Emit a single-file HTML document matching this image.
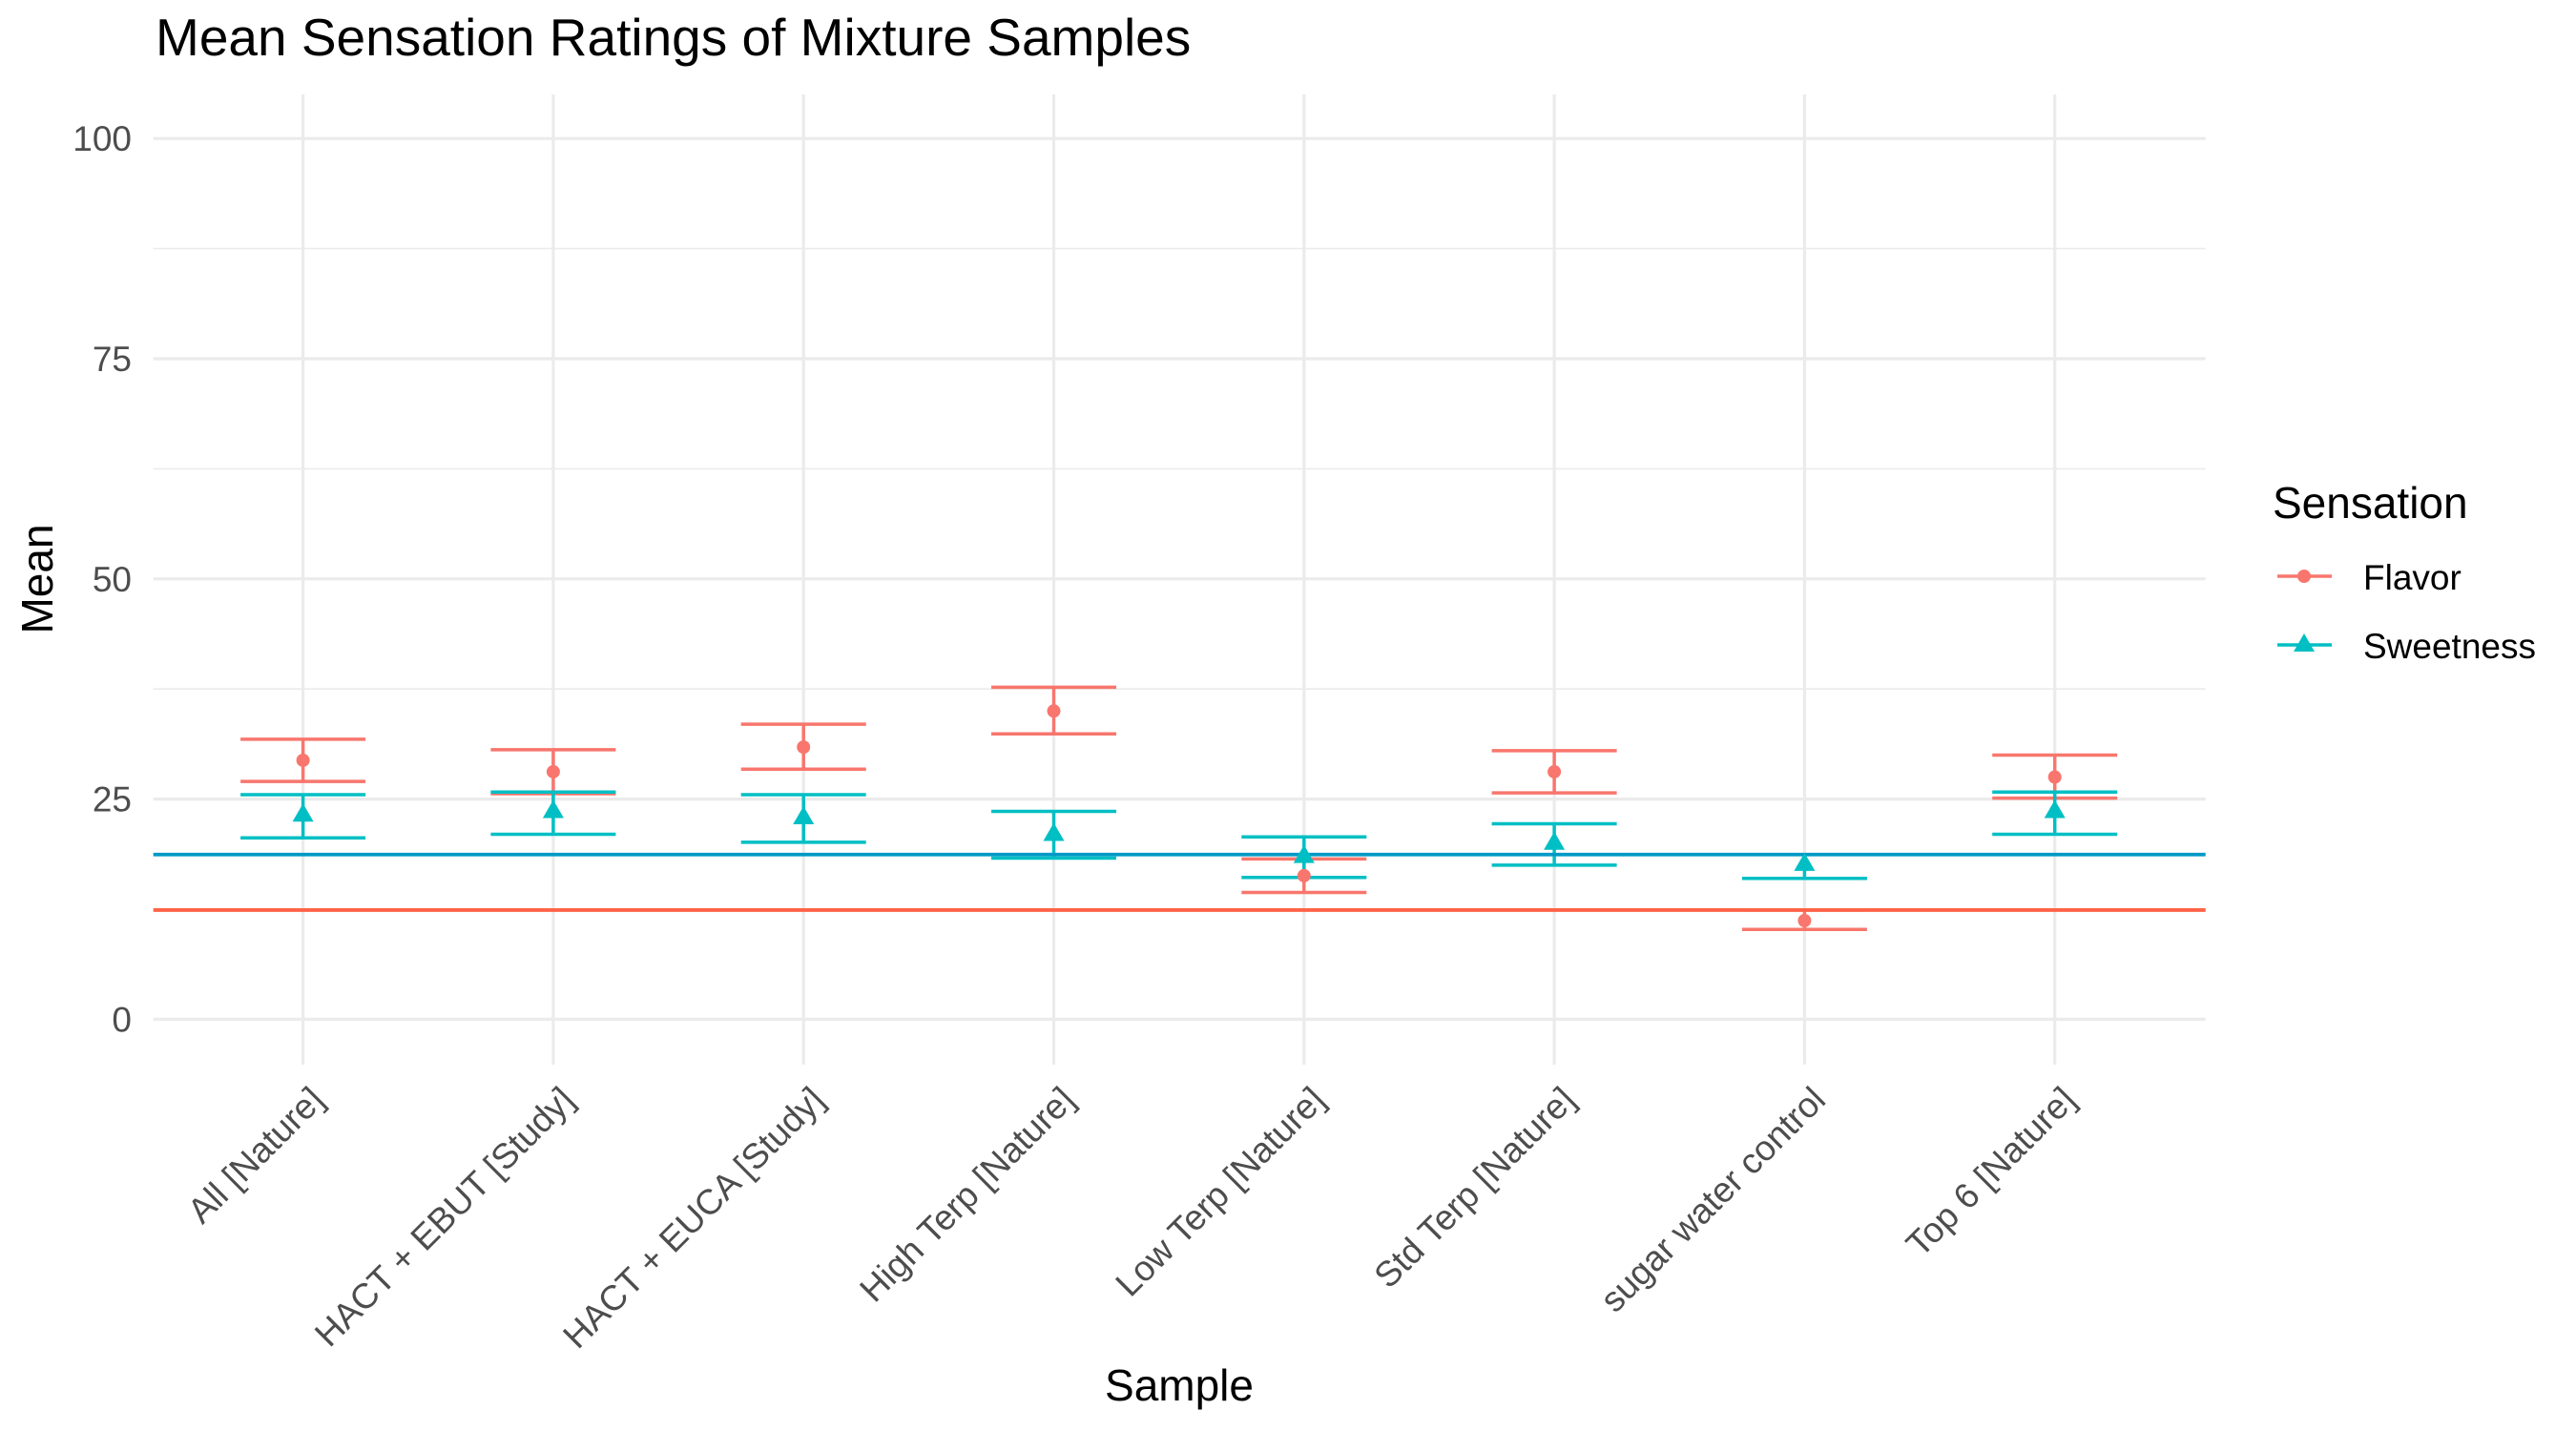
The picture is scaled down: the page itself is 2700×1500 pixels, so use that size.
<!DOCTYPE html>
<html><head><meta charset="utf-8"><style>
html,body{margin:0;padding:0;background:#fff;}
svg{display:block;font-family:"Liberation Sans",Arial,sans-serif;}
</style></head><body>
<svg id="chart" width="2700" height="1500" viewBox="0 0 2700 1500" xmlns="http://www.w3.org/2000/svg">
<rect width="2700" height="1500" fill="#fff"/>
<text x="163" y="58" font-size="55" fill="#000">Mean Sensation Ratings of Mixture Samples</text>
<g id="grid"></g>
<g id="marks"></g>
<g id="axes"></g>
<text transform="translate(55,607) rotate(-90)" text-anchor="middle" font-size="46" fill="#000">Mean</text>
<text x="1236" y="1468" text-anchor="middle" font-size="46" fill="#000">Sample</text>
<g>
<text x="2382" y="543" font-size="46" fill="#000">Sensation</text>
<g>
<line x1="2387" y1="604" x2="2444" y2="604" stroke="#F8766D" stroke-width="3.5"/>
<circle cx="2415" cy="604" r="7" fill="#F8766D"/>
<text x="2477" y="618" font-size="37" fill="#000">Flavor</text>
</g>
<g>
<line x1="2387" y1="676" x2="2444" y2="676" stroke="#00BFC4" stroke-width="3.5"/>
<polygon points="2415,664 2426,683 2404,683" fill="#00BFC4"/>
<text x="2477" y="690" font-size="37" fill="#000">Sweetness</text>
</g>
</g>
</svg>
<script>
const categories = ["All [Nature]","HACT + EBUT [Study]","HACT + EUCA [Study]","High Terp [Nature]","Low Terp [Nature]","Std Terp [Nature]","sugar water control","Top 6 [Nature]"];
const flavorMean = [29.4,28.1,30.9,35.0,16.3,28.1,11.2,27.5];
const flavorLow  = [27.0,25.6,28.4,32.4,14.4,25.7,10.2,25.1];
const flavorHigh = [31.8,30.6,33.5,37.7,18.2,30.5,12.4,30.0];
const sweetMean = [23.2,23.6,22.9,21.0,18.5,20.0,17.6,23.6];
const sweetLow  = [20.6,21.0,20.1,18.3,16.1,17.5,16.0,21.0];
const sweetHigh = [25.5,25.8,25.5,23.6,20.7,22.2,18.7,25.8];
const refLines = [18.7,12.4];
const yTicks = [0,25,50,75,100];
const yMinor = [12.5,37.5,62.5,87.5];

const NS="http://www.w3.org/2000/svg";
const X0=317.6, DX=262.3, Y0=1068.4, YK=9.232;
const xs = i => X0 + i*DX;
const ys = v => Y0 - v*YK;
const L=160.7, R=2311.7, T=99, B=1116;
function mk(tag, attrs, parent){const e=document.createElementNS(NS,tag);for(const k in attrs)e.setAttribute(k,attrs[k]);parent.appendChild(e);return e;}
const grid=document.getElementById('grid'), marks=document.getElementById('marks'), axes=document.getElementById('axes');
yMinor.forEach(v=>{const l=mk('line',{x1:L,x2:R,y1:ys(v),y2:ys(v),stroke:'#ebebeb','stroke-width':1.6},grid);

});
yTicks.forEach(v=>{const l=mk('line',{x1:L,x2:R,y1:ys(v),y2:ys(v),stroke:'#ebebeb','stroke-width':3.2},grid);


const t=mk('text',{x:138,y:ys(v)+13,'text-anchor':'end','font-size':37,fill:'#4d4d4d'},axes);t.textContent=v;

});
categories.forEach((c,i)=>{const l=mk('line',{x1:xs(i),x2:xs(i),y1:T,y2:B,stroke:'#ebebeb','stroke-width':3.2},grid);


const ax=xs(i)+24, ay=1155;
const t=mk('text',{x:ax,y:ay,'text-anchor':'end','font-size':37,fill:'#4d4d4d',transform:`rotate(-45 ${ax} ${ay})`},axes);t.textContent=c;

});
function errbar(i,lo,hi,col,name){const g=mk('g',{stroke:col,'stroke-width':3.5},marks);


const x=xs(i),w=65.5;
mk('line',{x1:x,x2:x,y1:ys(lo),y2:ys(hi)},g);
mk('line',{x1:x-w,x2:x+w,y1:ys(lo),y2:ys(lo)},g);
mk('line',{x1:x-w,x2:x+w,y1:ys(hi),y2:ys(hi)},g);}
categories.forEach((c,i)=>{
errbar(i,flavorLow[i],flavorHigh[i],'#F8766D','flavor-errorbar');
errbar(i,sweetLow[i],sweetHigh[i],'#00BFC4','sweetness-errorbar');});
const rc=['#0099C6','#FF6347'];
refLines.forEach((v,k)=>{const l=mk('line',{x1:L,x2:R,y1:ys(v),y2:ys(v),stroke:rc[k],'stroke-width':3.8},marks);

});
categories.forEach((c,i)=>{
const p=mk('circle',{cx:xs(i),cy:ys(flavorMean[i]),r:7,fill:'#F8766D'},marks);


const x=xs(i),y=ys(sweetMean[i]);
const q=mk('polygon',{points:`${x},${y-12} ${x+11},${y+7} ${x-11},${y+7}`,fill:'#00BFC4'},marks);

});
</script>
</body></html>
